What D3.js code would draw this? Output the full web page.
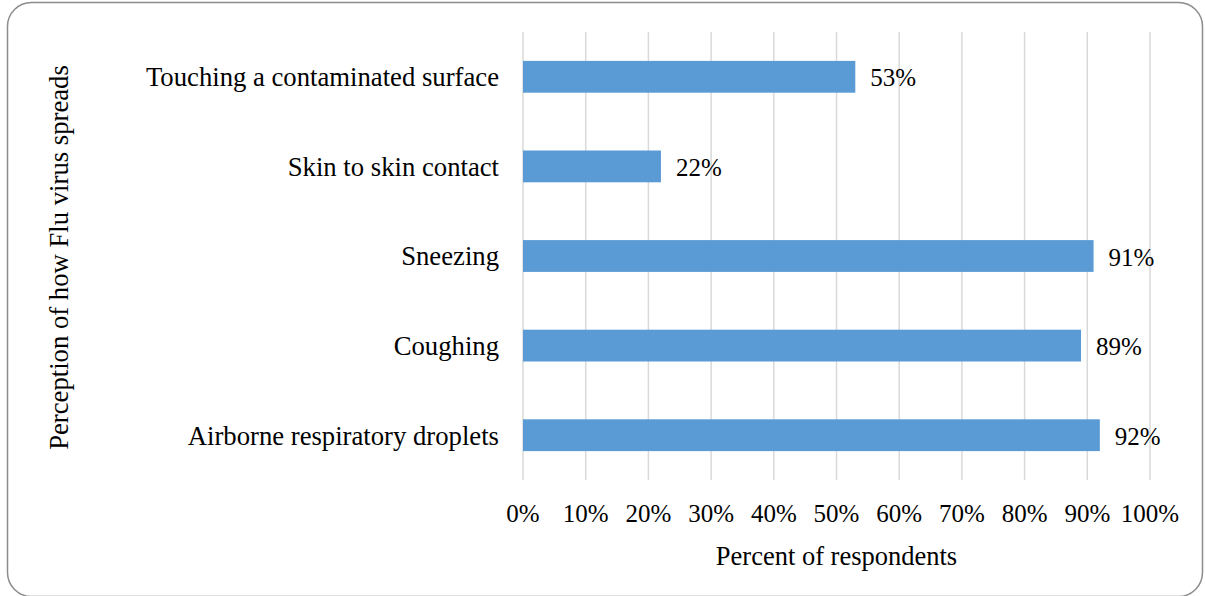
<!DOCTYPE html>
<html><head><meta charset="utf-8">
<script src="https://cdn.jsdelivr.net/npm/d3@7"></script>
<style>body{margin:0;background:#fff}svg{display:block}text{font-family:"Liberation Serif","Times New Roman",serif;fill:#000}</style>
</head><body><svg id="c" width="1205" height="596"></svg>
<script>
const categories = ["Touching a contaminated surface","Skin to skin contact","Sneezing","Coughing","Airborne respiratory droplets"];
const values = [53, 22, 91, 89, 92];
const ticks = [0,10,20,30,40,50,60,70,80,90,100];
const xTitle = "Percent of respondents";
const yTitle = "Perception of how Flu virus spreads";

const svg = d3.select("#c");
svg.append("rect").attr("x",7.5).attr("y",2.5).attr("width",1195).attr("height",594).attr("rx",24).attr("ry",24)
  .attr("fill","none").attr("stroke","#8c8c8c").attr("stroke-width",1.5);

const m = {l:523, r:1150, t:32, b:480};
const x = d3.scaleLinear().domain([0,100]).range([m.l, m.r]);
const y = d3.scaleBand().domain(categories).range([m.t, m.b]).paddingInner(0.645).paddingOuter(0.3225);

svg.append("g").selectAll("line").data(ticks).join("line")
  .attr("x1",d=>x(d)).attr("x2",d=>x(d)).attr("y1",m.t).attr("y2",m.b)
  .attr("stroke","#d9d9d9").attr("stroke-width",1.5);

svg.append("g").selectAll("rect").data(categories).join("rect")
  .attr("x",x(0)).attr("y",d=>y(d)).attr("width",(d,i)=>x(values[i])-x(0)).attr("height",y.bandwidth())
  .attr("fill","#5b9bd5");

svg.append("g").selectAll("text").data(categories).join("text")
  .attr("x",x(0)-24).attr("y",d=>y(d)+y.bandwidth()/2).attr("dy","0.35em").attr("text-anchor","end")
  .attr("font-size",26.7).text(d=>d);

svg.append("g").selectAll("text").data(categories).join("text")
  .attr("x",(d,i)=>x(values[i])+15).attr("y",d=>y(d)+y.bandwidth()/2+0.8).attr("dy","0.35em")
  .attr("font-size",25).text((d,i)=>values[i]+"%");

svg.append("g").selectAll("text").data(ticks).join("text")
  .attr("x",d=>x(d)).attr("y",513.3).attr("dy","0.35em").attr("text-anchor","middle")
  .attr("font-size",25).text(d=>d+"%");

svg.append("text").attr("x",(m.l+m.r)/2).attr("y",556).attr("dy","0.35em").attr("text-anchor","middle")
  .attr("font-size",26.5).text(xTitle);

svg.append("text").attr("transform",`translate(59,${(m.t+m.b)/2+1.5}) rotate(-90)`).attr("dy","0.35em").attr("text-anchor","middle")
  .attr("font-size",26.7).text(yTitle);
</script></body></html>
